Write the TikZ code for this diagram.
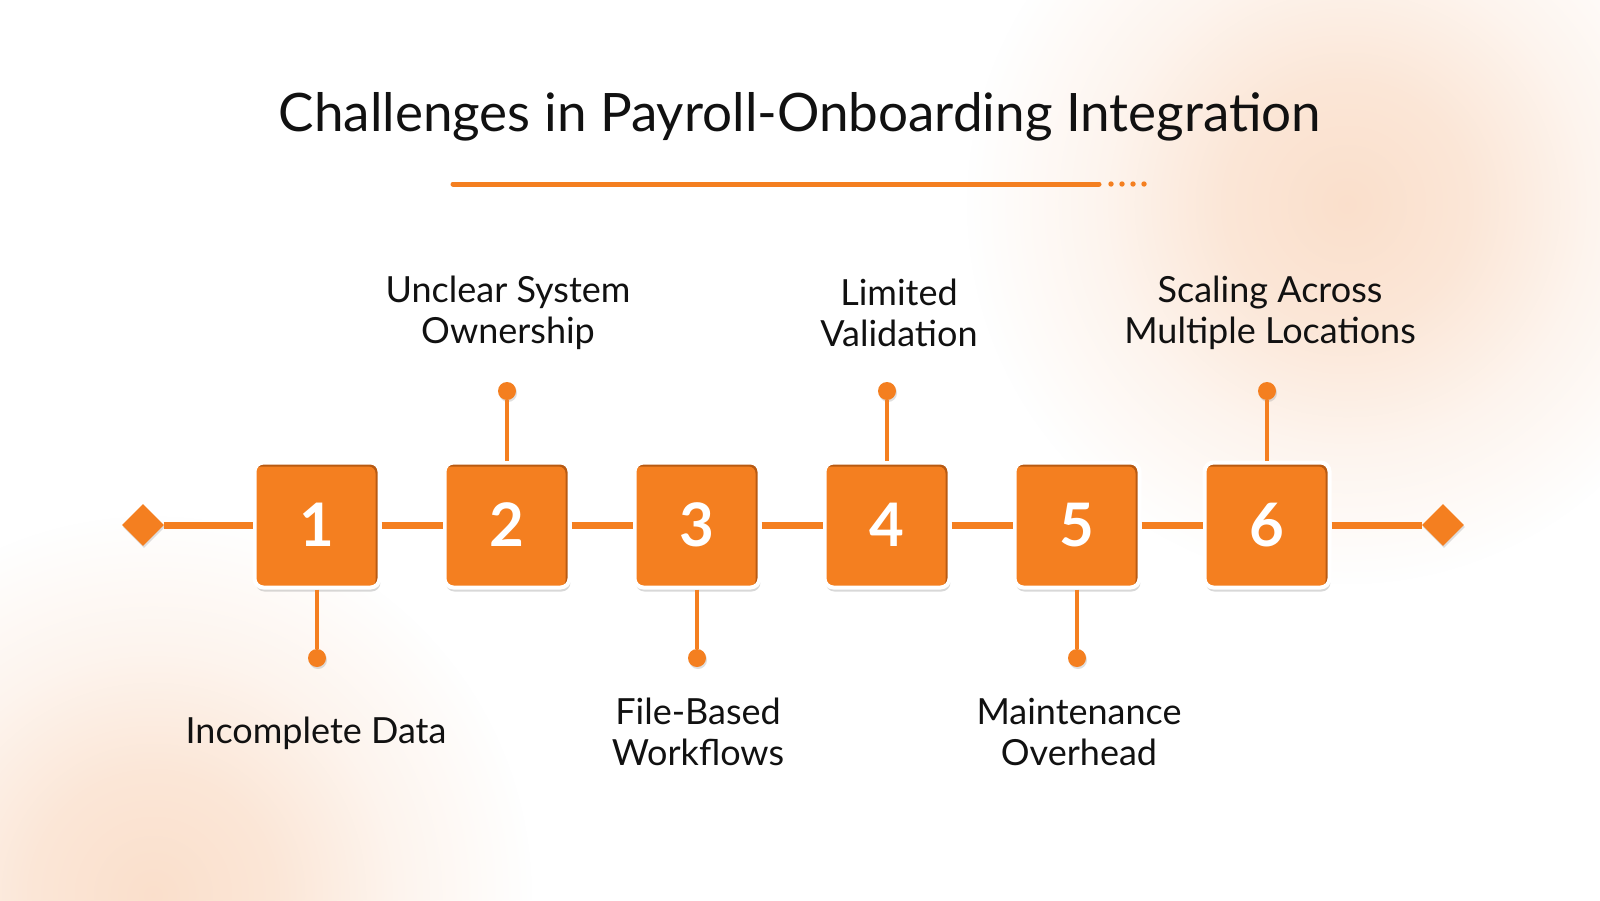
\documentclass[tikz,border=0pt]{standalone}
\usepackage{fontspec}
\setmainfont{Lato}
\usetikzlibrary{shapes.geometric,shadows,fadings}
\definecolor{brand}{HTML}{F47F20}
\definecolor{branddark}{HTML}{B85A12}
\definecolor{glow}{HTML}{FADCC6}
\definecolor{ink}{HTML}{111111}
\pgfdeclareradialshading{glowshade}{\pgfpointorigin}{color(0bp)=(transparent!10);
    color(8bp)=(transparent!30); color(16bp)=(transparent!70);
    color(25bp)=(transparent!100); color(50bp)=(transparent!100)}
\pgfdeclarefading{softglow}{\pgfuseshading{glowshade}}
\tikzset{
    every node/.style={inner sep=0pt, align=center, text=ink,
        font=\fontsize{36}{41}\selectfont}
}
\tikzset{
    box/.style={rectangle, rounded corners=9pt, minimum size=125pt,
        fill=branddark, draw=white, line width=4pt, text=white,
        font=\fontsize{60}{60}\selectfont\bfseries,
        drop shadow={shadow xshift=1pt, shadow yshift=-4pt, opacity=.3},
        path picture={\fill[brand, rounded corners=7pt]
            ([xshift=-4pt,yshift=-4pt]path picture bounding box.north east)
            rectangle (path picture bounding box.south west);}},
    tip/.style={diamond, minimum size=42pt, fill=brand,
        drop shadow={shadow xshift=1pt, shadow yshift=-2pt, opacity=.25}},
    dot/.style={circle, minimum size=18pt, fill=brand,
        drop shadow={shadow xshift=1pt, shadow yshift=-2pt, opacity=.25}},
    spine/.style={draw=brand, line width=7pt},
    stub/.style={draw=brand, line width=3.5pt}
}

\begin{document}
\begin{tikzpicture}[x=1pt, y=-1pt]
  \clip (0,0) rectangle (1600,900);
  \fill[white] (0,0) rectangle (1600,900);
  \fill[glow, path fading=softglow] (1347,204) circle (380);
  \fill[glow, path fading=softglow] (153,895) circle (380);

  \node (title) [font=\fontsize{53}{53}\selectfont] at (800,117)
    {Challenges in Payroll-Onboarding Integration};
  \draw[brand, line width=5pt, line cap=round] (453,184) -- (1099,184);
  \foreach \x in {1111,1122,1133,1144} \fill[brand] (\x,184) circle (2.7);

  \node (l) [tip] at (143,525) {};
  \node (r) [tip] at (1443,525) {};
  \node (1) [box] at (317,525) {1};
  \node (2) [box] at (507,525) {2};
  \node (3) [box] at (697,525) {3};
  \node (4) [box] at (887,525) {4};
  \node (5) [box] at (1077,525) {5};
  \node (6) [box] at (1267,525) {6};

  \draw[spine] (l) -- (1); \draw[spine] (1) -- (2); \draw[spine] (2) -- (3);
  \draw[spine] (3) -- (4); \draw[spine] (4) -- (5); \draw[spine] (5) -- (6);
  \draw[spine] (6) -- (r);

  \node (d1) [dot] at (317,658) {};
  \node (d2) [dot] at (507,391) {};
  \node (d3) [dot] at (697,658) {};
  \node (d4) [dot] at (887,391) {};
  \node (d5) [dot] at (1077,658) {};
  \node (d6) [dot] at (1267,391) {};
  \draw[stub] (1) -- (d1); \draw[stub] (2) -- (d2); \draw[stub] (3) -- (d3);
  \draw[stub] (4) -- (d4); \draw[stub] (5) -- (d5); \draw[stub] (6) -- (d6);

  \node (t1) at (316,733) {Incomplete Data};
  \node (t2) at (508,313) {Unclear System\\Ownership};
  \node (t3) at (698,732) {File-Based\\Workflows};
  \node (t4) at (899,313) {Limited\\Validation};
  \node (t5) at (1079,732) {Maintenance\\Overhead};
  \node (t6) at (1270,313) {Scaling Across\\Multiple Locations};
\end{tikzpicture}
\end{document}
